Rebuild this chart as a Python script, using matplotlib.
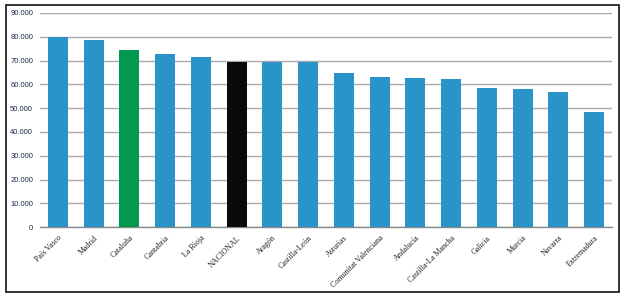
import matplotlib
matplotlib.use("Agg")
import matplotlib.pyplot as plt
from matplotlib.patches import Rectangle
from matplotlib.ticker import FuncFormatter, MultipleLocator

categories = ["País Vasco", "Madrid", "Cataluña", "Cantabria", "La Rioja", "NACIONAL",
              "Aragón", "Castilla-León", "Asturias", "Comunitat Valenciana", "Andalucía",
              "Castilla-La Mancha", "Galicia", "Murcia", "Navarra", "Extremadura"]
values = [79800, 78800, 74400, 72600, 71600, 69400, 69200, 69200, 64900, 63100,
          62700, 62200, 58600, 57900, 56800, 48400]

blue = "#2a93c7"
colors = [blue] * len(categories)
colors[categories.index("Cataluña")] = "#00994f"
colors[categories.index("NACIONAL")] = "#0a0a0a"

fig = plt.figure(figsize=(6.25, 3.0), dpi=100)
fig.patches.append(Rectangle((0.0096, 0.027), 0.9808, 0.956, transform=fig.transFigure,
                             fill=False, edgecolor="#111111", linewidth=1.2))
ax = fig.add_axes([0.064, 0.243, 0.915, 0.714])

x = list(range(len(categories)))
ax.bar(x, values, width=0.56, color=colors, zorder=3)
ax.set_xlim(-0.5, len(categories) - 0.5)
ax.set_ylim(0, 90000)
ax.yaxis.set_major_locator(MultipleLocator(10000))
ax.yaxis.set_major_formatter(FuncFormatter(lambda v, p: f"{int(v):,}".replace(",", ".")))
ax.grid(axis="y", color="#aaaaaa", linewidth=1.0, zorder=0)
ax.set_axisbelow(True)
for s in ["top", "right", "left"]:
    ax.spines[s].set_visible(False)
ax.spines["bottom"].set_color("#888888")
ax.spines["bottom"].set_linewidth(1.0)
ax.tick_params(axis="both", length=0)
ax.tick_params(axis="y", pad=5, labelsize=5.5, labelcolor="#1a2a4a")
for lab in ax.get_yticklabels():
    lab.set_family("Liberation Sans")

ax.set_xticks(x)
ax.set_xticklabels(categories, rotation=45, ha="right", rotation_mode="anchor",
                   fontsize=5.7, family="Liberation Serif", color="#222222")
ax.tick_params(axis="x", pad=5)

fig.savefig("out.png", dpi=100)
